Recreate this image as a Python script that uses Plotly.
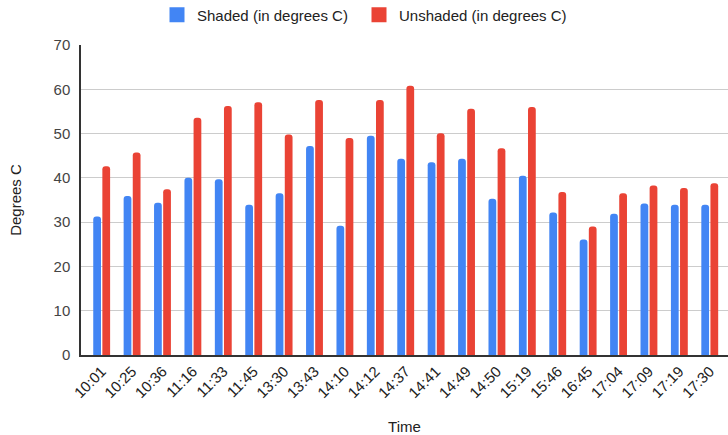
import plotly.graph_objects as go

times = ["10:01", "10:25", "10:36", "11:16", "11:33", "11:45", "13:30", "13:43",
         "14:10", "14:12", "14:37", "14:41", "14:49", "14:50", "15:19", "15:46",
         "16:45", "17:04", "17:09", "17:19", "17:30"]
shaded = [31.3, 35.9, 34.4, 40.0, 39.7, 33.9, 36.5, 47.2, 29.2, 49.5, 44.3,
          43.5, 44.3, 35.3, 40.5, 32.2, 26.1, 31.9, 34.2, 33.9, 33.9]
unshaded = [42.6, 45.7, 37.4, 53.6, 56.2, 57.1, 49.8, 57.6, 49.0, 57.6, 60.8,
            50.1, 55.6, 46.7, 56.0, 36.8, 29.0, 36.5, 38.3, 37.7, 38.8]
y_ticks = [0, 10, 20, 30, 40, 50, 60, 70]

FONT = "Arial, Liberation Sans, sans-serif"
BLUE = "#4285F4"
RED = "#EA4335"

fig = go.Figure()
fig.add_trace(go.Bar(x=times, y=shaded, name="Shaded (in degrees C)",
                     marker=dict(color=BLUE, line=dict(width=0)),
                     showlegend=False))
fig.add_trace(go.Bar(x=times, y=unshaded, name="Unshaded (in degrees C)",
                     marker=dict(color=RED, line=dict(width=0)),
                     showlegend=False))

# legend entries with larger square swatches, one legend box each
for name, color, leg in [("Shaded (in degrees C)", BLUE, "legend"),
                         ("Unshaded (in degrees C)", RED, "legend2")]:
    fig.add_trace(go.Scatter(x=[None], y=[None], mode="markers", name=name,
                             legend=leg,
                             marker=dict(symbol="square", size=15, color=color,
                                         line=dict(width=0))))

legend_style = dict(orientation="h", xref="container", yref="container",
                    xanchor="left", y=1 - 15 / 435, yanchor="middle",
                    font=dict(size=15, color="#222222"), itemwidth=30,
                    bgcolor="rgba(0,0,0,0)")

fig.update_layout(
    width=728, height=435,
    margin=dict(l=81, r=0, t=45, b=80),
    paper_bgcolor="white", plot_bgcolor="white",
    font=dict(family=FONT, size=15, color="#444444"),
    barmode="group", bargap=0.4, bargroupgap=0.15,
    barcornerradius=3,
    legend=dict(x=157 / 728, **legend_style),
    legend2=dict(x=359 / 728, **legend_style),
    xaxis=dict(
        type="category", range=[-0.68, 20.6],
        tickangle=-45, tickfont=dict(size=15, color="#222222"),
        showline=True, linecolor="#333333", linewidth=1.5,
        ticks="", showgrid=False,
        title=dict(text="Time", font=dict(size=15, color="#222222"), standoff=22),
    ),
    yaxis=dict(
        range=[0, 70], tickvals=y_ticks,
        showgrid=True, gridcolor="#cccccc", gridwidth=1,
        showline=True, linecolor="#333333", linewidth=1.5,
        zeroline=False, ticks="", ticklabelstandoff=6,
        tickfont=dict(size=15, color="#444444"),
        title=dict(text="Degrees C", font=dict(size=15, color="#222222"), standoff=28),
    ),
)

fig.write_html("out.html")
